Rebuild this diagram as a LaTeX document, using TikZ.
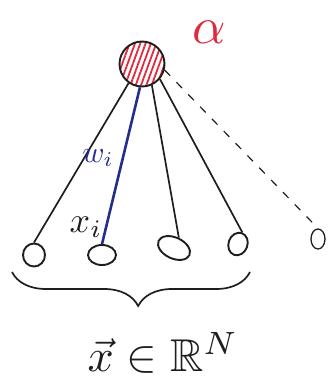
\documentclass[tikz,border=0pt]{standalone}
\usepackage{amssymb}
\usetikzlibrary{patterns.meta,decorations.pathreplacing,calc,shapes.geometric}
\definecolor{pen}{RGB}{30,30,30}
\definecolor{redink}{RGB}{225,40,60}
\definecolor{blueink}{RGB}{35,45,140}
\begin{document}
\begin{tikzpicture}[x=1pt,y=-1pt,
  inode/.style={draw=pen,line width=1.9pt,ellipse,inner sep=0pt},
  wire/.style={draw=pen,line width=1.7pt},
  lbl/.style={inner sep=0pt}]
\useasboundingbox (0,0) rectangle (329,385);
% top neuron
\node (n) [circle,draw=pen,line width=1.9pt,minimum size=45pt,inner sep=0pt,
  pattern={Lines[angle=70,distance=5pt,line width=1.8pt]},pattern color=redink] at (142,64) {};
\node (alpha) [lbl,text=redink,scale=5.2] at (209,32) {$\alpha$};
% inputs
\node (x1) [inode,minimum width=22pt,minimum height=23pt] at (34,255) {};
\node (x2) [inode,minimum width=28pt,minimum height=20pt] at (102,255) {};
\node (x3) [inode,minimum width=34pt,minimum height=21pt,rotate=-25] at (174,248) {};
\node (x4) [inode,minimum width=19pt,minimum height=23pt,rotate=-20] at (238,244) {};
\node (x5) [inode,line width=1.3pt,minimum width=14pt,minimum height=20pt] at (318,239) {};
% connections
\draw[wire] (n.235) -- (x1.north);
\draw[draw=blueink,line width=2.6pt] (n.265) -- (x2.north);
\draw[wire] (n.295) -- (x3.north);
\draw[wire] (n.320) -- (x4.north);
\draw[draw=pen,line width=1.2pt,dash pattern=on 8pt off 9pt] (n.345) -- (x5.north);
% labels
\node (w) [lbl,text=blueink,scale=3] at (98,158) {$w_i$};
\node (xi) [lbl,text=pen,scale=3.6] at (86,227) {$x_i$};
% brace
\coordinate (bl) at (12,272);
\coordinate (br) at (250,272);
\draw[draw=pen,line width=1.7pt,decorate,decoration={brace,mirror,amplitude=34pt,aspect=0.53}] (bl) -- (br);
\node (vec) [lbl,text=pen,scale=4.6] at (163,353) {$\vec{x}\in\mathbb{R}^N$};
\end{tikzpicture}
\end{document}
